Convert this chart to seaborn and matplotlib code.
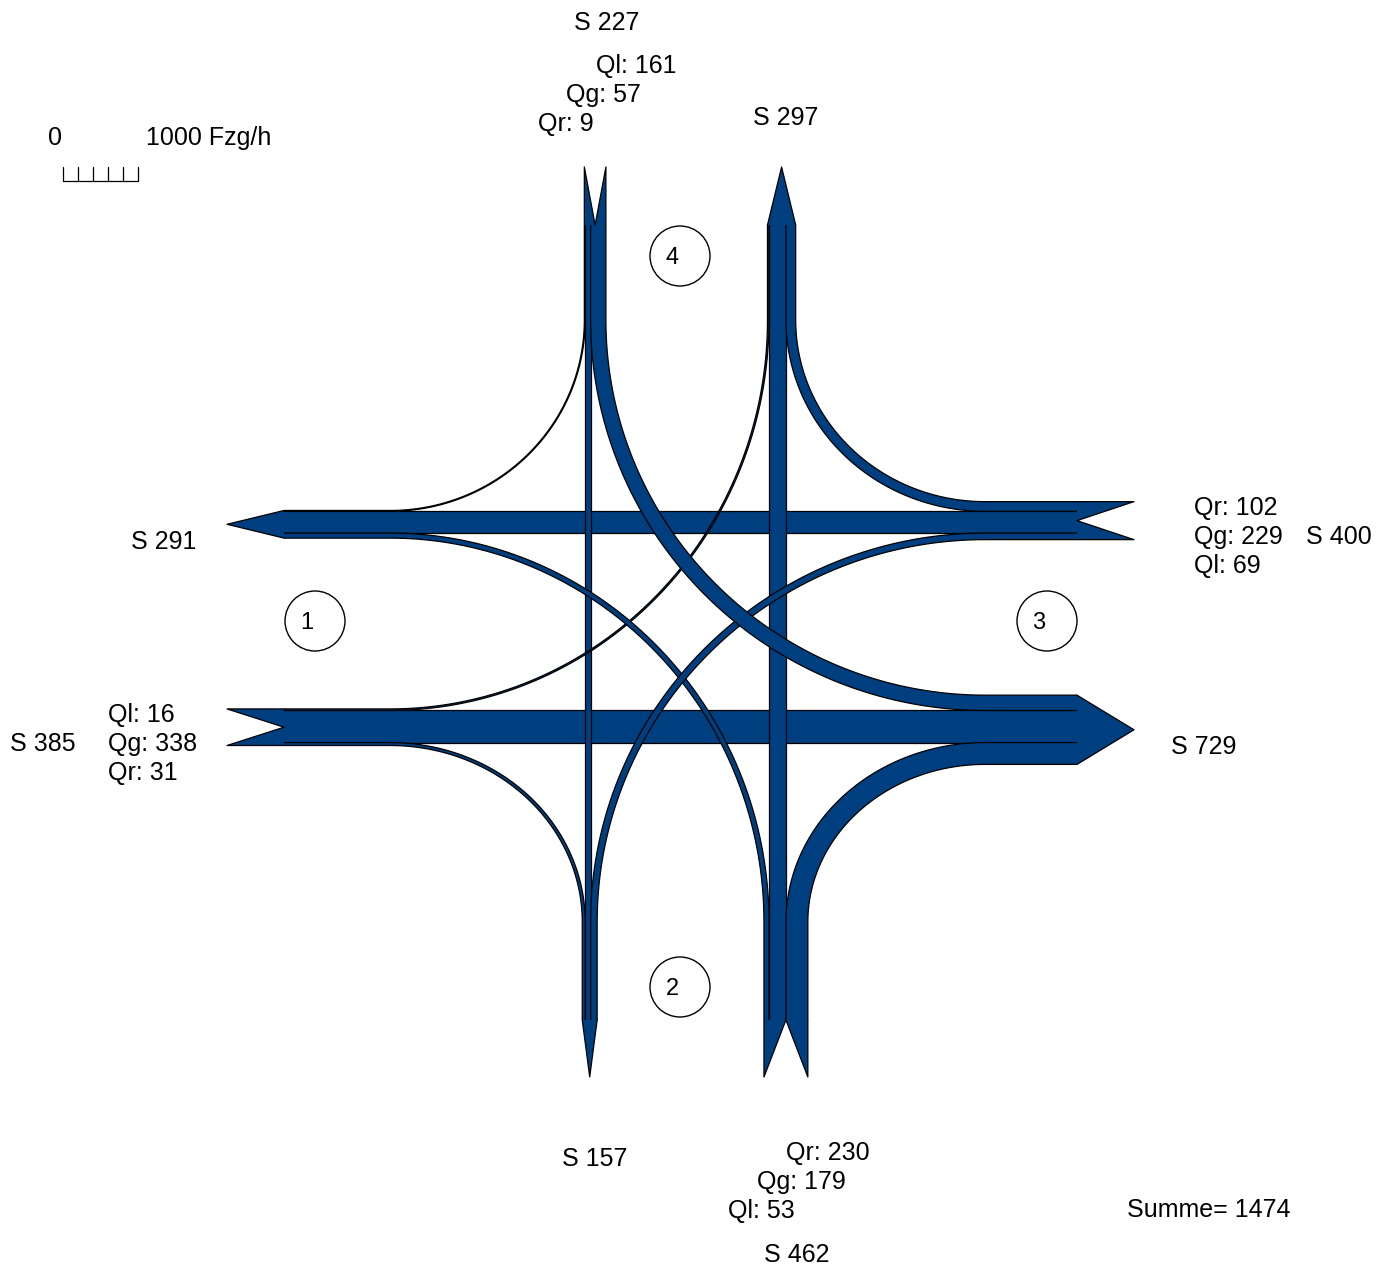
import numpy as np
import pandas as pd
import seaborn as sns
import matplotlib.pyplot as plt
from matplotlib.patches import Polygon, Circle


# -----------------------------
# DATA (Fzg/h) - arms: 1 = West, 2 = South, 3 = East, 4 = North
# -----------------------------
arms = [1, 2, 3, 4]
ql = [16, 53, 69, 161]     # left turners per arm
qg = [338, 179, 229, 57]   # through traffic per arm
qr = [31, 230, 102, 9]     # right turners per arm

flows = pd.DataFrame({"arm": arms, "L": ql, "T": qg, "R": qr}).set_index("arm")


# -----------------------------
# LAYOUT
# -----------------------------
K = 0.095            # px per Fzg/h
BLUE = "#003f7f"
LW = 0.9

geo = {
    1: dict(axis="h", edge=390, base=284, outer=227, through=726.5, left=-1),
    2: dict(axis="v", edge=922, base=1020, outer=1077, through=777.5, left=-1),
    3: dict(axis="h", edge=985, base=1077, outer=1134, through=522.2, left=1),
    4: dict(axis="v", edge=320, base=225, outer=167, through=587.9, left=1),
}

OFFSET = {"R": 1, "T": 2, "L": 3}


def dest(i, m):
    return (i - 1 + OFFSET[m]) % 4 + 1


def opp(j):
    return (j + 1) % 4 + 1


def stack(c, wT, wL, wR, side):
    t = (c - wT / 2, c + wT / 2)
    if side < 0:
        return (t[0] - wL, t[0]), t, (t[1], t[1] + wR)
    return (t[1], t[1] + wL), t, (t[0] - wR, t[0])


def in_lanes(i):
    wL, wT, wR = [flows.loc[i, m] * K for m in "LTR"]
    L, T, R = stack(geo[i]["through"], wT, wL, wR, geo[i]["left"])
    return {"L": L, "T": T, "R": R}


def out_lanes(j):
    o = opp(j)
    a_left = j % 4 + 1
    a_right = (j - 2) % 4 + 1
    wT = flows.loc[o, "T"] * K
    wL = flows.loc[a_left, "L"] * K
    wR = flows.loc[a_right, "R"] * K
    L, T, R = stack(geo[o]["through"], wT, wL, wR, geo[o]["left"])
    return {(o, "T"): T, (a_left, "L"): L, (a_right, "R"): R}


def pt(arm, lon, lat):
    return (lon, lat) if geo[arm]["axis"] == "h" else (lat, lon)


def edge_path(i, j, s_in, s_out, n=80):
    gi, gj = geo[i], geo[j]
    p0 = pt(i, gi["base"], s_in)
    A = pt(i, gi["edge"], s_in)
    B = pt(j, gj["edge"], s_out)
    p3 = pt(j, gj["base"], s_out)
    if gi["axis"] == gj["axis"]:
        mid = np.array([A, B])
    else:
        V, H = (A, B) if gi["axis"] == "v" else (B, A)
        V, H = np.array(V), np.array(H)
        C = np.array([H[0], V[1]])
        t = np.linspace(0, np.pi / 2, n)
        mid = C + np.outer(np.cos(t), V - C) + np.outer(np.sin(t), H - C)
        if gi["axis"] == "h":
            mid = mid[::-1]
    return np.vstack([p0, mid, p3])


ins = {i: in_lanes(i) for i in arms}
outs = {j: out_lanes(j) for j in arms}


# -----------------------------
# FIGURE
# -----------------------------
sns.set_theme(style="white")
plt.rcParams["font.family"] = ["Liberation Sans", "DejaVu Sans"]
plt.rcParams["text.color"] = "black"

fig = plt.figure(figsize=(13.9, 12.65), dpi=100)
ax = fig.add_axes([0, 0, 1, 1])
ax.set_xlim(0, 1390)
ax.set_ylim(1265, 0)
ax.axis("off")


def draw_move(i, m, z):
    j = dest(i, m)
    a = ins[i][m]
    b = outs[j][(i, m)]
    li, lo = geo[i]["left"], geo[opp(j)]["left"]
    in_l, in_r = (a[0], a[1]) if li < 0 else (a[1], a[0])
    out_l, out_r = (b[0], b[1]) if lo < 0 else (b[1], b[0])
    e1 = edge_path(i, j, in_l, out_l)
    e2 = edge_path(i, j, in_r, out_r)
    poly = np.vstack([e1, e2[::-1]])
    ax.add_patch(Polygon(poly, closed=True, facecolor=BLUE,
                         edgecolor="none", zorder=z))
    for e in (e1, e2):
        ax.plot(e[:, 0], e[:, 1], color="black", lw=LW, zorder=z + 0.1,
                solid_capstyle="butt")


z = 1
for m, order in [("T", [1, 3]), ("T", [2, 4]), ("R", arms), ("L", arms)]:
    for i in order:
        draw_move(i, m, z)
        z += 1


# arrow heads
def draw_in_head(i):
    g = geo[i]
    lanes = ins[i].values()
    lo = min(l[0] for l in lanes)
    hi = max(l[1] for l in lanes)
    mid = (lo + hi) / 2
    b, o = g["base"], g["outer"]
    poly = [pt(i, o, lo), pt(i, b, lo), pt(i, b, hi), pt(i, o, hi), pt(i, b, mid)]
    ax.add_patch(Polygon(poly, closed=True, facecolor=BLUE, edgecolor="none", zorder=50))
    line = np.array([pt(i, b, lo), pt(i, o, lo), pt(i, b, mid), pt(i, o, hi), pt(i, b, hi)])
    ax.plot(line[:, 0], line[:, 1], color="black", lw=LW, zorder=51)


def draw_out_head(j):
    g = geo[j]
    lanes = outs[j].values()
    lo = min(l[0] for l in lanes)
    hi = max(l[1] for l in lanes)
    mid = (lo + hi) / 2
    b, o = g["base"], g["outer"]
    poly = [pt(j, b, lo), pt(j, o, mid), pt(j, b, hi)]
    ax.add_patch(Polygon(poly, closed=True, facecolor=BLUE, edgecolor="none", zorder=50))
    line = np.array(poly)
    ax.plot(line[:, 0], line[:, 1], color="black", lw=LW, zorder=51)


for a in arms:
    draw_in_head(a)
    draw_out_head(a)


# arm numbers
circles = {1: (315, 621), 2: (680, 987), 3: (1047, 621), 4: (680, 256)}
for a, (cx, cy) in circles.items():
    ax.add_patch(Circle((cx, cy), 30, fill=False, edgecolor="black", lw=1.0, zorder=60))
    ax.text(cx - 8, cy + 8, str(a), fontsize=17, color="black",
            ha="center", va="baseline", zorder=61)


# scale bar
ticks = np.linspace(63, 138, 6)
ax.plot([63, 138], [181, 181], color="black", lw=0.9)
for tx in ticks:
    ax.plot([tx, tx], [167, 181], color="black", lw=0.9)


# -----------------------------
# TEXT
# -----------------------------
s_in = flows.sum(axis=1)
s_out = {j: int(sum(flows.loc[i, m] for (i, m) in outs[j])) for j in arms}
FS = 18


def label(x, y, s, ha="left"):
    ax.text(x, y, s, fontsize=FS, color="black", ha=ha, va="baseline")


label(55, 145, "0", ha="center")
label(146, 145, "1000 Fzg/h")

# north
label(607, 30, f"S {s_in[4]}", ha="center")
label(596, 73, f"Ql: {flows.loc[4, 'L']}")
label(566, 102, f"Qg: {flows.loc[4, 'T']}")
label(538, 131, f"Qr: {flows.loc[4, 'R']}")
label(786, 125, f"S {s_out[4]}", ha="center")

# west
label(164, 549, f"S {s_out[1]}", ha="center")
label(108, 722, f"Ql: {flows.loc[1, 'L']}")
label(108, 751, f"Qg: {flows.loc[1, 'T']}")
label(108, 780, f"Qr: {flows.loc[1, 'R']}")
label(10, 751, f"S {s_in[1]}")

# east
label(1194, 515, f"Qr: {flows.loc[3, 'R']}")
label(1194, 544, f"Qg: {flows.loc[3, 'T']}")
label(1194, 573, f"Ql: {flows.loc[3, 'L']}")
label(1306, 544, f"S {s_in[3]}")
label(1171, 754, f"S {s_out[3]}")

# south
label(595, 1166, f"S {s_out[2]}", ha="center")
label(786, 1160, f"Qr: {flows.loc[2, 'R']}")
label(757, 1189, f"Qg: {flows.loc[2, 'T']}")
label(728, 1218, f"Ql: {flows.loc[2, 'L']}")
label(797, 1262, f"S {s_in[2]}", ha="center")

label(1127, 1217, f"Summe= {int(flows.values.sum())}")

fig.savefig("out.png", dpi=100)
